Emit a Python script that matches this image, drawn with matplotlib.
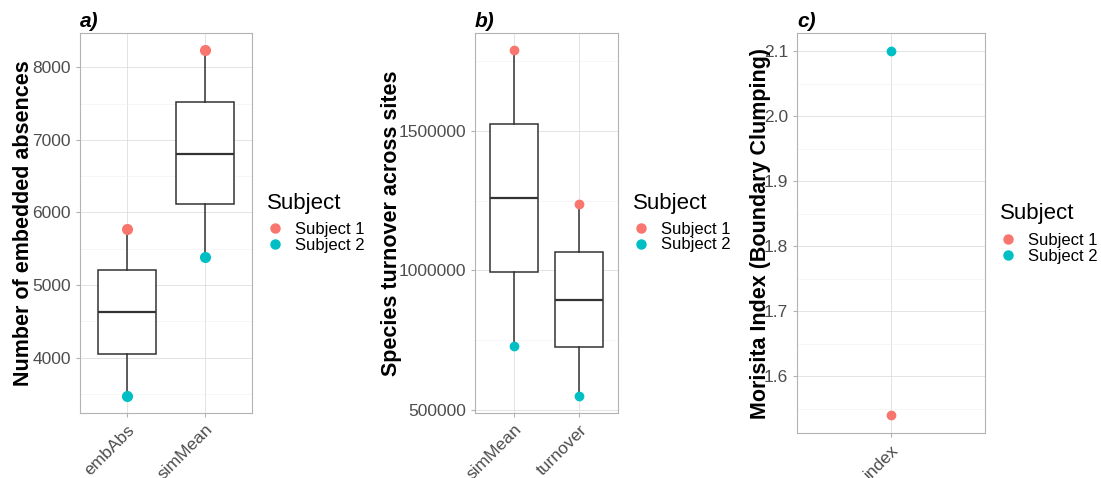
import matplotlib
matplotlib.use("Agg")
import matplotlib.pyplot as plt
from matplotlib.lines import Line2D
from matplotlib.ticker import MultipleLocator, StrMethodFormatter

plt.rcParams["font.family"] = ["Liberation Sans", "DejaVu Sans"]

# panel a
a_cats = ["embAbs", "simMean"]
a_q1 = [4050, 6110]
a_med = [4625, 6805]
a_q3 = [5205, 7515]
a_whislo = [3478, 5385]
a_whishi = [5770, 8233]
a_subj1 = [5770, 8233]
a_subj2 = [3478, 5385]

# panel b
b_cats = ["simMean", "turnover"]
b_q1 = [995000, 724000]
b_med = [1259600, 894000]
b_q3 = [1524000, 1065000]
b_whislo = [729600, 551000]
b_whishi = [1789000, 1239000]
b_subj1 = [1789000, 1239000]
b_subj2 = [729600, 551000]

# panel c
c_cats = ["index"]
c_subj1 = [1.541]
c_subj2 = [2.1]

col1 = "#F8766D"
col2 = "#00BFC4"
box_col = "#333333"
grid_major = "#DEDEDE"
grid_minor = "#EFEFEF"
border = "#B3B3B3"
tick_col = "#4D4D4D"

W, H = 1101, 478
fig = plt.figure(figsize=(W / 100, H / 100), dpi=100)


def style_axes(ax, cats, major, title, ylabel, label_x):
    n = len(cats)
    pos = list(range(1, n + 1))
    ax.set_xlim(0.4, n + 0.6)
    ax.set_xticks(pos)
    ax.set_xticklabels(cats, rotation=45, ha="right", rotation_mode="anchor")
    ax.yaxis.set_major_locator(MultipleLocator(major))
    ax.yaxis.set_minor_locator(MultipleLocator(major / 2))
    ax.grid(True, which="major", color=grid_major, lw=0.6, zorder=0)
    ax.grid(True, which="minor", axis="y", color=grid_minor, lw=0.4, zorder=0)
    ax.set_axisbelow(True)
    ax.tick_params(axis="both", which="major", colors=border, labelcolor=tick_col,
                   labelsize=12.5, length=3, width=0.8)
    ax.tick_params(axis="y", which="minor", length=0)
    for s in ax.spines.values():
        s.set_color(border)
        s.set_linewidth(0.8)
    ax.set_title(title, loc="left", fontsize=15, fontweight="bold",
                 fontstyle="italic", pad=4)
    ax.set_ylabel(ylabel, fontsize=15.5, fontweight="bold")
    ax.yaxis.set_label_coords(label_x, 0.5)


def add_legend(ax, mx, items_y, title_x, title_y):
    # mx, items_y, title_x, title_y in picture pixels
    handles = [
        Line2D([], [], marker="o", ls="none", color=col1, markersize=6.5),
        Line2D([], [], marker="o", ls="none", color=col2, markersize=6.5),
    ]
    ax.legend(handles, ["Subject 1", "Subject 2"], loc="center left",
              bbox_to_anchor=((mx - 10) / W, 1 - items_y / H),
              bbox_transform=fig.transFigure, frameon=False, fontsize=12,
              labelspacing=0.05, handletextpad=0.6, handlelength=1.2,
              borderaxespad=0, borderpad=0)
    fig.text(title_x / W, 1 - title_y / H, "Subject", fontsize=16,
             ha="left", va="center", color="black")


def draw_boxes(ax, q1, med, q3, lo, hi, s1, s2, ms):
    stats = []
    for i in range(len(q1)):
        stats.append({"med": med[i], "q1": q1[i], "q3": q3[i],
                      "whislo": lo[i], "whishi": hi[i], "fliers": []})
    pos = list(range(1, len(q1) + 1))
    ax.bxp(stats, positions=pos, widths=0.75, showcaps=False, showfliers=False,
           patch_artist=True,
           boxprops=dict(facecolor="white", edgecolor=box_col, lw=1.1),
           medianprops=dict(color=box_col, lw=1.6),
           whiskerprops=dict(color=box_col, lw=1.1))
    ax.plot(pos, s1, "o", color=col1, markersize=ms, ls="none", zorder=4)
    ax.plot(pos, s2, "o", color=col2, markersize=ms, ls="none", zorder=4)
    ax.margins(y=0.05)


ax_a = fig.add_axes([0.0727, 0.136, 0.1562, 0.795])
draw_boxes(ax_a, a_q1, a_med, a_q3, a_whislo, a_whishi, a_subj1, a_subj2, 7)
style_axes(ax_a, a_cats, 1000, "a)", "Number of embedded absences", -0.27)
add_legend(ax_a, 275, 237.5, 267, 203)

ax_b = fig.add_axes([0.4314, 0.136, 0.1299, 0.795])
draw_boxes(ax_b, b_q1, b_med, b_q3, b_whislo, b_whishi, b_subj1, b_subj2, 6)
style_axes(ax_b, b_cats, 500000, "b)", "Species turnover across sites", -0.51)
ax_b.yaxis.set_major_formatter(StrMethodFormatter("{x:.0f}"))
add_legend(ax_b, 641, 237, 633, 203)

ax_c = fig.add_axes([0.7239, 0.0941, 0.1708, 0.8368])
ax_c.plot([1], c_subj1, "o", color=col1, markersize=6, ls="none", zorder=4)
ax_c.plot([1], c_subj2, "o", color=col2, markersize=6, ls="none", zorder=4)
ax_c.margins(y=0.05)
style_axes(ax_c, c_cats, 0.1, "c)", "Morisita Index (Boundary Clumping)", -0.14)
ax_c.yaxis.set_major_formatter(StrMethodFormatter("{x:.1f}"))
add_legend(ax_c, 1008, 248.5, 1000, 213)

fig.savefig("out.png", dpi=100)
